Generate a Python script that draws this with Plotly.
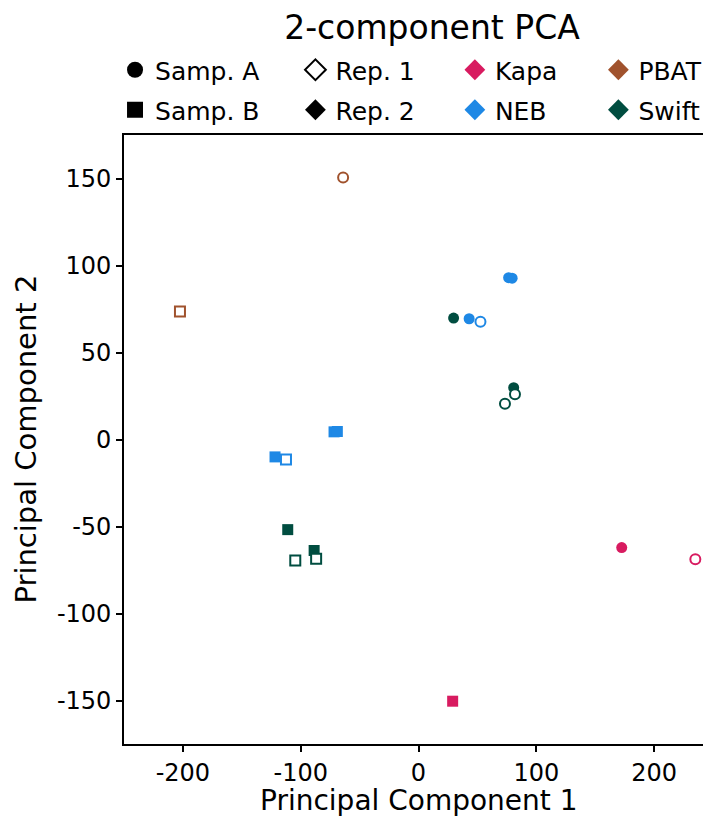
import plotly.graph_objects as go

# ---- data ----
kit    = ["Kapa", "Kapa", "Kapa",
          "NEB", "NEB", "NEB", "NEB", "NEB", "NEB", "NEB", "NEB",
          "PBAT", "PBAT",
          "Swift", "Swift", "Swift", "Swift", "Swift", "Swift", "Swift", "Swift"]
sample = ["A", "A", "B",
          "A", "A", "A", "A", "B", "B", "B", "B",
          "A", "B",
          "A", "A", "A", "A", "B", "B", "B", "B"]
rep    = [2, 1, 2,
          2, 1, 2, 2, 2, 1, 2, 2,
          1, 1,
          2, 2, 1, 1, 2, 2, 1, 1]
pc1    = [172.5, 235.0, 29.0,
          43.0, 52.6, 76.5, 79.5, -121.8, -112.5, -71.7, -68.9,
          -64.0, -202.5,
          29.8, 80.8, 81.9, 73.4, -111.0, -88.6, -104.6, -86.9]
pc2    = [-62.1, -68.8, -150.4,
          69.4, 67.7, 93.0, 92.7, -10.0, -11.5, 4.4, 4.6,
          150.6, 73.6,
          69.8, 29.8, 26.0, 20.6, -51.8, -63.8, -69.6, -68.6]

kit_colors = {"Kapa": "#D81B60", "NEB": "#1E88E5", "PBAT": "#A0522D", "Swift": "#004D40"}
sample_symbols = {"A": "circle", "B": "square"}

xtick_vals = [-200, -100, 0, 100, 200]
xtick_text = ["-200", "-100", "0", "100", "200"]
ytick_vals = [-150, -100, -50, 0, 50, 100, 150]
ytick_text = ["-150", "-100", "-50", "0", "50", "100", "150"]

FONT = "DejaVu Sans"
W, H = 711, 820
ML, MR, MT, MB = 116, 4, 127, 84
PW, PH = W - ML - MR, H - MT - MB

fig = go.Figure()

# filled (Rep. 2) first, then open (Rep. 1) on top
for r in (2, 1):
    idx = [i for i in range(len(pc1)) if rep[i] == r]
    cols = [kit_colors[kit[i]] for i in idx]
    fig.add_trace(go.Scatter(
        x=[pc1[i] for i in idx], y=[pc2[i] for i in idx], mode="markers",
        marker=dict(
            symbol=[sample_symbols[sample[i]] for i in idx],
            size=11 if r == 2 else 10,
            color=cols if r == 2 else "white",
            line=dict(color=cols, width=0 if r == 2 else 2),
        ),
        showlegend=False, hoverinfo="skip",
    ))

# legend entries laid out as a 2 x 4 grid (one small legend per entry)
legend_items = [
    # name, symbol, fill, line colour, line width, column, row
    ("Samp. A", "circle", "black", "black", 0, 0, 0),
    ("Samp. B", "square", "black", "black", 0, 0, 1),
    ("Rep. 1", "diamond", "white", "black", 2, 1, 0),
    ("Rep. 2", "diamond", "black", "black", 0, 1, 1),
    ("Kapa", "diamond", kit_colors["Kapa"], kit_colors["Kapa"], 0, 2, 0),
    ("NEB", "diamond", kit_colors["NEB"], kit_colors["NEB"], 0, 2, 1),
    ("PBAT", "diamond", kit_colors["PBAT"], kit_colors["PBAT"], 0, 3, 0),
    ("Swift", "diamond", kit_colors["Swift"], kit_colors["Swift"], 0, 3, 1),
]
col_marker_px = [127, 308, 468, 612]
row_center_px = [62, 102]

legend_layout = {}
for k, (name, sym, fc, lc, lw, c, r) in enumerate(legend_items):
    lid = "legend" if k == 0 else f"legend{k + 1}"
    fig.add_trace(go.Scatter(
        x=[None], y=[None], mode="markers", name=name,
        marker=dict(symbol=sym, size=16, color=fc, line=dict(color=lc, width=lw)),
        legend=lid,
    ))
    legend_layout[lid] = dict(
        orientation="v", xanchor="left", yanchor="middle",
        x=(col_marker_px[c] - 20 - ML) / PW,
        y=(H - MB - row_center_px[r]) / PH,
        font=dict(family=FONT, size=25, color="black"),
        bgcolor="rgba(0,0,0,0)", borderwidth=0, itemclick=False,
    )

axis_common = dict(showline=True, linecolor="black", linewidth=1.6, mirror=True,
                   ticks="outside", ticklen=6, tickwidth=1.5, tickcolor="black",
                   showgrid=False, zeroline=False,
                   tickfont=dict(family=FONT, size=24, color="black"))

fig.update_layout(
    width=W, height=H,
    margin=dict(l=ML, r=MR, t=MT, b=MB),
    plot_bgcolor="white", paper_bgcolor="white",
    title=dict(text="2-component PCA", x=424 / W, xref="container", xanchor="center",
               y=1 - 19 / H, yref="container", yanchor="middle",
               font=dict(family=FONT, size=33, color="black")),
    xaxis=dict(range=[-250, 250], tickvals=xtick_vals, ticktext=xtick_text,
               **axis_common),
    yaxis=dict(range=[-175, 175], tickvals=ytick_vals, ticktext=ytick_text,
               **axis_common),
    annotations=[
        dict(text="Principal Component 1", xref="paper", yref="paper",
             x=0.5, y=0, xanchor="center", yanchor="middle",
             yshift=-(792 - (H - MB)), showarrow=False,
             font=dict(family=FONT, size=28, color="black")),
        dict(text="Principal Component 2", xref="paper", yref="paper",
             x=0, y=0.5, xanchor="center", yanchor="middle", textangle=-90,
             xshift=-(ML - 17), showarrow=False,
             font=dict(family=FONT, size=29, color="black")),
    ],
    **legend_layout,
)

fig.write_html("out.html")
